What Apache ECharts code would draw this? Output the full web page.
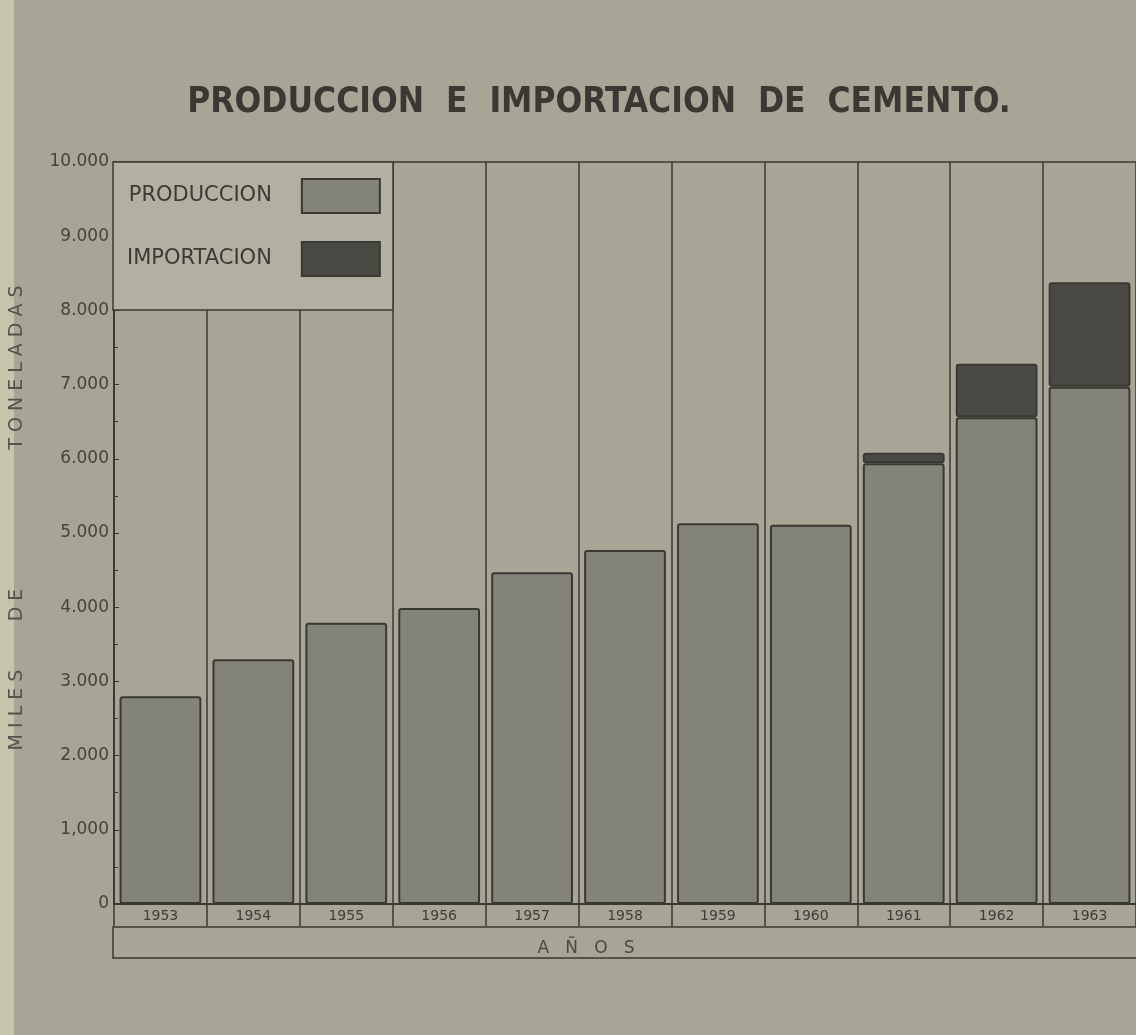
<!DOCTYPE html>
<html>
<head>
<meta charset="utf-8">
<script src="https://cdn.jsdelivr.net/npm/echarts@6/dist/echarts.min.js"></script>
<style>
html, body { margin: 0; padding: 0; background: #a6a596; }
#chart { width: 1136px; height: 1035px; }
</style>
</head>
<body>
<div id="chart"></div>
<script>
// datos (miles de toneladas)
var anos = ['1953', '1954', '1955', '1956', '1957', '1958', '1959', '1960', '1961', '1962', '1963'];
var produccion = [2800, 3300, 3790, 3990, 4470, 4770, 5130, 5110, 5940, 6560, 6970];
var importacion = [0, 0, 0, 0, 0, 0, 0, 0, 140, 720, 1410];
var yEtiquetas = ['0', '1,000', '2.000', '3.000', '4.000', '5.000', '6.000', '7.000', '8.000', '9.000', '10.000'];

var GL = 113, GT = 162, GW = 1025, GH = 742;
var tinta = '#3a3833';
var fuente = "'DejaVu Sans', sans-serif";

var chart = echarts.init(document.getElementById('chart'));

var option = {
	backgroundColor: '#a6a596',
	animation: false,
	title: {
		text: 'PRODUCCION  E  IMPORTACION  DE  CEMENTO.',
		left: 594,
		top: 80,
		textAlign: 'center',
		textStyle: {
			fontFamily: "'Liberation Sans Narrow', 'DejaVu Sans Condensed', 'Liberation Sans', sans-serif",
			fontSize: 35,
			fontWeight: 'bold',
			color: '#3a3833'
		}
	},
	legend: {
		data: ['PRODUCCION', 'IMPORTACION'],
		orient: 'vertical',
		left: 122,
		top: 173,
		align: 'right',
		icon: 'rect',
		itemWidth: 78,
		itemHeight: 34,
		itemGap: 27,
		z: 6,
		selectedMode: false,
		textStyle: {
			fontFamily: fuente,
			fontSize: 21,
			color: '#3c3a35',
			padding: [0, 25, 0, 0]
		}
	},
	grid: { left: GL, top: GT, width: GW, height: GH },
	xAxis: [
		{
			type: 'category',
			data: anos,
			name: 'A   Ñ   O   S',
			nameLocation: 'middle',
			nameGap: 36,
			nameTextStyle: { fontFamily: fuente, fontSize: 17, color: '#4a4843', padding: [0, 78, 0, 0] },
			axisLine: { lineStyle: { color: tinta, width: 2 } },
			axisTick: { show: true, length: 22, lineStyle: { color: tinta, width: 1.5 } },
			axisLabel: { fontFamily: fuente, fontSize: 14, color: '#403e39', margin: 5 },
			splitLine: { show: true, lineStyle: { color: tinta, width: 1.5 } }
		},
		{
			// borde superior del grafico
			type: 'category',
			data: anos,
			position: 'top',
			axisLine: { lineStyle: { color: tinta, width: 1.5 } },
			axisTick: { show: false },
			axisLabel: { show: false }
		}
	],
	yAxis: {
		type: 'value',
		min: 0,
		max: 10000,
		interval: 1000,
		axisLine: { show: true, lineStyle: { color: tinta, width: 2 } },
		axisTick: { show: true, inside: true, length: 5, lineStyle: { color: tinta } },
		minorTick: { show: true, splitNumber: 2, length: 4, lineStyle: { color: tinta } },
		splitLine: { show: false },
		axisLabel: {
			fontFamily: fuente,
			fontSize: 17,
			color: '#45433e',
			margin: 5,
			formatter: function (v) { return yEtiquetas[Math.round(v / 1000)]; }
		},
		// texto rotado: espacios para reproducir el espaciado del original
		name: '     M I L E S        D E                       T O N E L A D A S',
		nameLocation: 'middle',
		nameGap: 87,
		nameTextStyle: { fontFamily: fuente, fontSize: 19, color: '#55534c' }
	},
	graphic: [
		// fondo mas claro de la leyenda
		{
			type: 'rect',
			z: 5,
			shape: { x: GL, y: GT, width: 280, height: 148 },
			style: { fill: '#b1b0a1', stroke: tinta, lineWidth: 1.5 }
		},
		// fila de "AÑOS"
		{
			type: 'rect',
			z: 1,
			shape: { x: GL, y: GT + GH + 23, width: GW + 10, height: 31 },
			style: { fill: 'rgba(0,0,0,0)', stroke: tinta, lineWidth: 1.5 }
		},
		// borde claro del papel
		{
			type: 'rect',
			z: 0,
			shape: { x: 0, y: 0, width: 14, height: 1035 },
			style: { fill: '#c6c4ab' }
		}
	],
	series: [
		{
			name: 'PRODUCCION',
			type: 'bar',
			stack: 'total',
			barCategoryGap: '12%',
			data: produccion,
			itemStyle: { color: '#84837a', borderColor: tinta, borderWidth: 2, borderRadius: 2 }
		},
		{
			name: 'IMPORTACION',
			type: 'bar',
			stack: 'total',
			barCategoryGap: '12%',
			data: importacion.map(function (v) { return v > 0 ? v : '-'; }),
			itemStyle: { color: '#4b4944', borderColor: tinta, borderWidth: 2, borderRadius: 2 }
		}
	]
};

chart.setOption(option);
</script>
</body>
</html>
